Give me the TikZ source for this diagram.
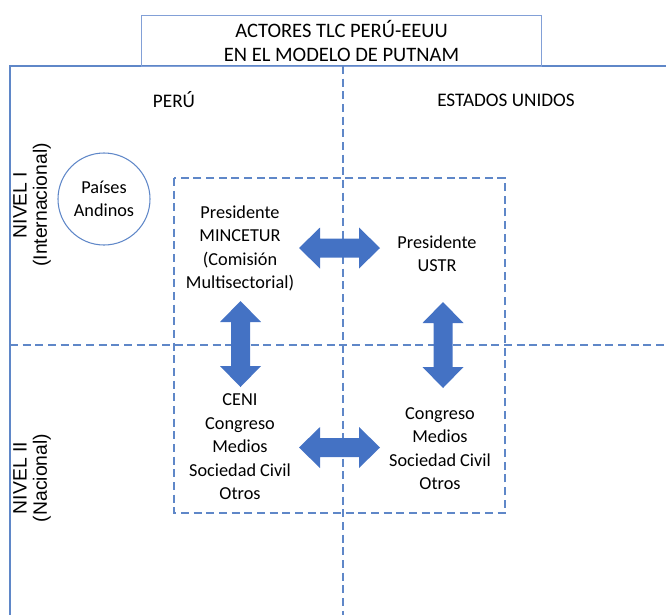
\documentclass[tikz,border=0pt]{standalone}
\usepackage{fontspec}
\setmainfont{Carlito}
\newfontfamily\arialfont{Liberation Sans}
\definecolor{lineblue}{RGB}{95,135,200}
\definecolor{titleblue}{RGB}{130,160,215}
\definecolor{arrowblue}{RGB}{68,114,196}
\begin{document}
\begin{tikzpicture}[x=0.75pt,y=-0.75pt,
  frame/.style={draw=lineblue,line width=0.8pt},
  dashline/.style={draw=lineblue,line width=0.8pt,dash pattern=on 6pt off 3.5pt},
  lbl/.style={inner sep=0pt,align=center,font=\fontsize{13.7}{17.6}\selectfont},
  hdr/.style={inner sep=0pt,font=\fontsize{14.4}{17}\selectfont},
  lvl/.style={inner sep=0pt,align=center,rotate=90,font=\arialfont\fontsize{14.5}{15.2}\selectfont},
  blockarrow/.style={fill=arrowblue,draw=none}]
\useasboundingbox (0,0) rectangle (666,615);
% frame
\draw[frame] (666,66) -- (10,66) -- (10,615);
\node[draw=titleblue,line width=0.8pt,minimum width=400*0.75pt,minimum height=51*0.75pt,inner sep=0pt,anchor=north west,
  align=center,font=\fontsize{15.4}{18}\selectfont] (title) at (141,15) {ACTORES TLC PERÚ-EEUU\\EN EL MODELO DE PUTNAM};
% quadrant dashed lines
\draw[dashline] (343,66) -- (343,615);
\draw[dashline] (10,345) -- (666,345);
% inner dashed box
\draw[dashline] (174,178) rectangle (505,513);
% headers
\node[hdr] (peru) at (174,100) {PERÚ};
\node[hdr] (eeuu) at (506,100) {ESTADOS UNIDOS};
\node[lvl] (n1) at (32,205) {NIVEL I\\(Internacional)};
\node[lvl] (n2) at (32,478) {NIVEL II\\(Nacional)};
% circle
\node[draw=lineblue,line width=0.8pt,circle,minimum size=92*0.75pt,inner sep=0pt,lbl] (andinos) at (104,199) {Países\\Andinos};
% actor texts
\node[lbl] (mincetur) at (240,248.5) {Presidente\\MINCETUR\\(Comisión\\Multisectorial)};
\node[lbl] (ustr) at (437,253.5) {Presidente\\USTR};
\node[lbl] (ceni) at (240,447) {CENI\\Congreso\\Medios\\Sociedad Civil\\Otros};
\node[lbl] (congus) at (440,448.5) {Congreso\\Medios\\Sociedad Civil\\Otros};
% block arrows
\newcommand{\hdarrow}[2]{%
  \fill[blockarrow] (#1-40.5,#2) -- (#1-19.5,#2-20.5) -- (#1-19.5,#2-9.5) -- (#1+19.5,#2-9.5) -- (#1+19.5,#2-20.5)
   -- (#1+40.5,#2) -- (#1+19.5,#2+20.5) -- (#1+19.5,#2+9.5) -- (#1-19.5,#2+9.5) -- (#1-19.5,#2+20.5) -- cycle;}
\newcommand{\vdarrow}[2]{%
  \fill[blockarrow] (#1,#2-43) -- (#1+20.5,#2-22) -- (#1+9.5,#2-22) -- (#1+9.5,#2+22) -- (#1+20.5,#2+22)
   -- (#1,#2+43) -- (#1-20.5,#2+22) -- (#1-9.5,#2+22) -- (#1-9.5,#2-22) -- (#1-20.5,#2-22) -- cycle;}
\hdarrow{339.5}{248}
\hdarrow{339.5}{447.5}
\vdarrow{240.5}{344}
\vdarrow{443}{345}
\end{tikzpicture}
\end{document}
